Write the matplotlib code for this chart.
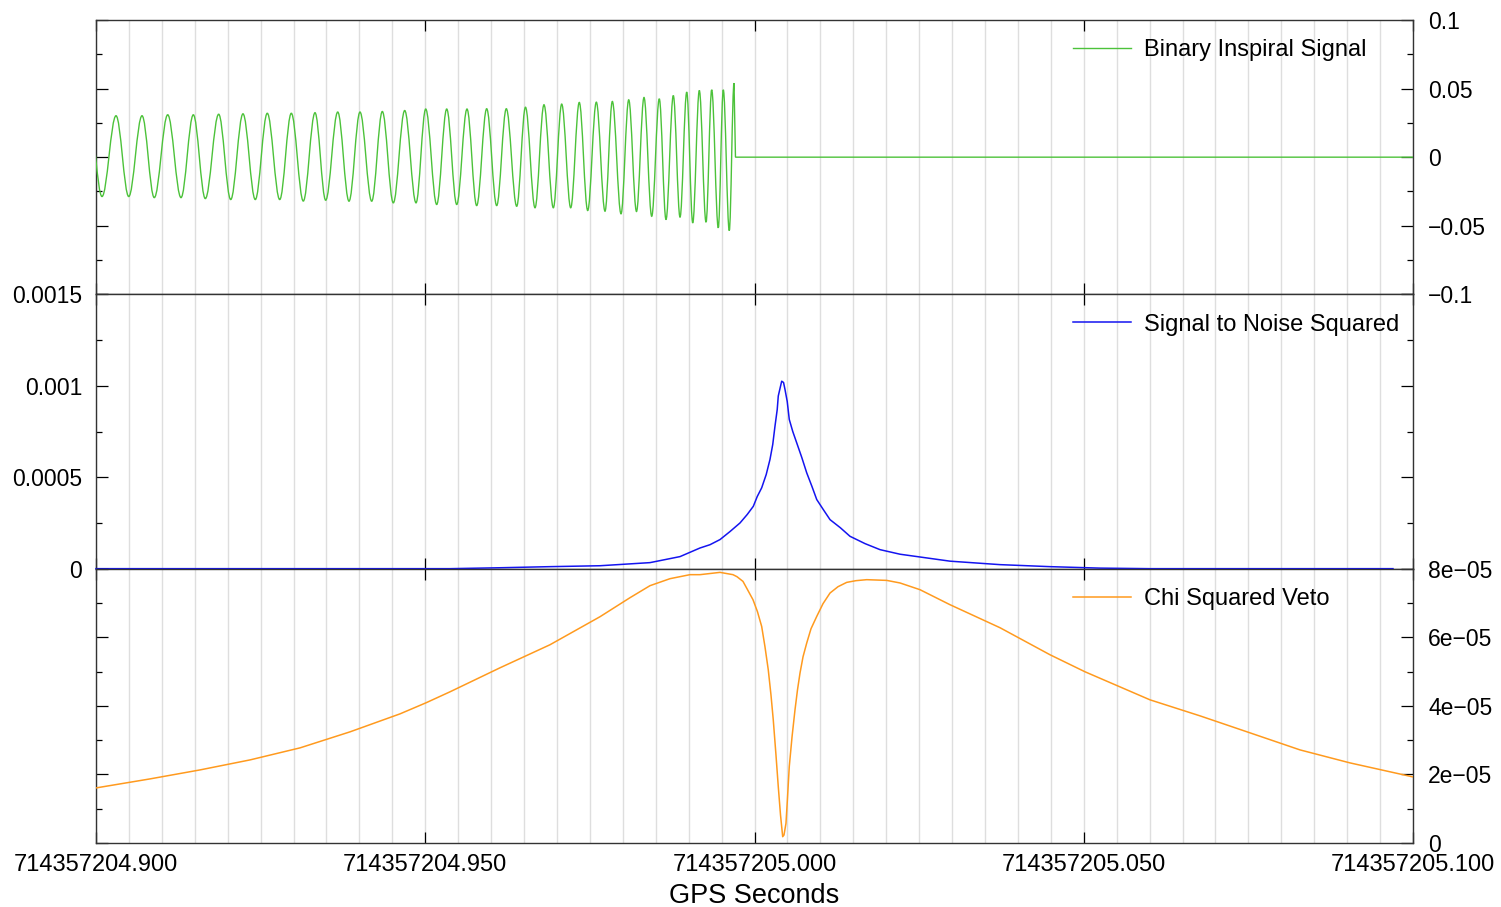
import numpy as np
import matplotlib
matplotlib.use("Agg")
import matplotlib.pyplot as plt
from matplotlib.path import Path
from matplotlib.patches import PathPatch
from matplotlib.ticker import FixedLocator, FuncFormatter

plt.rcParams['font.family'] = ['Liberation Sans', 'DejaVu Sans']

t0 = 714357204.900   # GPS start of the window

# inspiral waveform turning points (ms after t0, strain)
chirp_ms = [-1.05, 0.91, 3.04, 4.97, 6.99, 8.85, 10.89, 12.91, 14.78, 16.60,
            18.63, 20.46, 22.32, 24.19, 26.01, 27.90, 29.66, 31.48, 33.26, 34.88,
            36.71, 38.42, 40.09, 41.87, 43.48, 45.15, 46.88, 48.60, 50.07, 51.74,
            53.26, 54.78, 56.34, 57.81, 59.33, 60.85, 62.31, 63.89, 65.22, 66.67,
            68.03, 69.45, 70.72, 72.09, 73.39, 74.67, 75.98, 77.30, 78.41, 79.73,
            80.90, 82.08, 83.22, 84.39, 85.54, 86.56, 87.67, 88.69, 89.71, 90.62,
            91.62, 92.64, 93.50, 94.50, 95.26, 96.17, 96.89]
chirp_amp = [0.0300, -0.0287, 0.0302, -0.0287, 0.0302, -0.0295, 0.0309, -0.0295, 0.0309, -0.0302,
             0.0313, -0.0309, 0.0316, -0.0309, 0.0320, -0.0309, 0.0320, -0.0320, 0.0324, -0.0314,
             0.0329, -0.0321, 0.0329, -0.0321, 0.0333, -0.0333, 0.0340, -0.0333, 0.0351, -0.0345,
             0.0351, -0.0345, 0.0351, -0.0353, 0.0353, -0.0353, 0.0353, -0.0358, 0.0364, -0.0369,
             0.0382, -0.0369, 0.0387, -0.0369, 0.0399, -0.0389, 0.0401, -0.0394, 0.0406, -0.0413,
             0.0418, -0.0396, 0.0435, -0.0431, 0.0425, -0.0455, 0.0449, -0.0438, 0.0474, -0.0479,
             0.0486, -0.0474, 0.0491, -0.0515, 0.0491, -0.0535, 0.0540]
merger_ms = 97.11

# signal to noise squared
snr_ms = [0.0, 53.76, 61.35, 68.94, 76.54, 84.13, 88.69, 91.72, 93.24, 94.76,
          96.28, 97.80, 98.89, 99.82, 100.41, 101.09, 101.78, 102.35, 102.77, 103.11,
          103.45, 103.61, 103.91, 104.13, 104.41, 104.63, 104.97, 105.28, 105.81, 106.41,
          107.18, 107.93, 108.73, 109.45, 110.45, 111.47, 113.03, 114.50, 116.78, 119.06,
          122.10, 129.69, 137.29, 144.88, 152.47, 160.06, 196.96]
snr_val = [0.0, 0.0, 0.000005, 0.000011, 0.000016, 0.000033, 0.000066, 0.000113, 0.000131, 0.000159,
           0.000203, 0.000250, 0.000296, 0.000341, 0.000394, 0.000442, 0.000515, 0.000597, 0.000679, 0.000779,
           0.000870, 0.000944, 0.000991, 0.001025, 0.001018, 0.000980, 0.000914, 0.000816, 0.000750, 0.000688,
           0.000608, 0.000524, 0.000449, 0.000378, 0.000323, 0.000268, 0.000224, 0.000177, 0.000137, 0.000104,
           0.000079, 0.000041, 0.000022, 0.000011, 0.000003, 0.0, 0.0]

# chi squared veto
chi_ms = [0.0, 8.20, 15.79, 23.39, 30.98, 38.57, 46.17, 50.11, 53.76, 61.35,
          68.94, 76.54, 81.09, 84.13, 87.17, 90.20, 91.72, 94.76, 96.73, 97.34,
          98.25, 98.86, 99.77, 100.45, 101.09, 101.59, 102.09, 102.50, 102.85, 103.26,
          103.61, 103.95, 104.28, 104.48, 104.78, 105.01, 105.28, 105.70, 106.15, 106.53,
          106.91, 107.37, 107.93, 108.58, 109.45, 110.40, 111.47, 112.68, 114.00, 115.41,
          117.04, 120.08, 122.10, 125.13, 129.69, 137.29, 144.88, 150.19, 160.06, 167.65,
          175.25, 182.84, 190.43, 200.0]
chi_val = [1.606e-5, 1.869e-5, 2.131e-5, 2.423e-5, 2.774e-5, 3.241e-5, 3.766e-5, 4.088e-5, 4.409e-5, 5.109e-5,
           5.781e-5, 6.599e-5, 7.153e-5, 7.504e-5, 7.708e-5, 7.825e-5, 7.825e-5, 7.892e-5, 7.825e-5, 7.766e-5,
           7.629e-5, 7.416e-5, 7.095e-5, 6.745e-5, 6.315e-5, 5.723e-5, 5.051e-5, 4.321e-5, 3.591e-5, 2.569e-5,
           1.644e-5, 0.818e-5, 0.184e-5, 0.234e-5, 0.575e-5, 1.314e-5, 2.228e-5, 3.095e-5, 3.883e-5, 4.467e-5,
           4.955e-5, 5.431e-5, 5.831e-5, 6.248e-5, 6.607e-5, 6.978e-5, 7.290e-5, 7.474e-5, 7.600e-5, 7.650e-5,
           7.679e-5, 7.658e-5, 7.583e-5, 7.387e-5, 6.949e-5, 6.277e-5, 5.489e-5, 4.993e-5, 4.175e-5, 3.708e-5,
           3.212e-5, 2.715e-5, 2.336e-5, 1.927e-5]

green = '#4cc23a'
blue = '#1414f0'
orange = '#ff9a1e'
FS = 16.5


def gps(ms):
    return t0 + np.asarray(ms) / 1000.0


def fmt(v, _):
    s = f"{v:g}"
    return s.replace('-', '\u2212')


fig = plt.figure(figsize=(15.01, 9.07), dpi=100)
left, right = 96 / 1501, 1413 / 1501
bottom, top = 1 - 843 / 907, 1 - 20 / 907
h = (top - bottom) / 3
ax_sig = fig.add_axes([left, bottom + 2 * h, right - left, h])
ax_snr = fig.add_axes([left, bottom + h, right - left, h], sharex=ax_sig)
ax_chi = fig.add_axes([left, bottom, right - left, h], sharex=ax_sig)

# chirp drawn as smooth half cycles between turning points
t = gps(chirp_ms)
a = np.asarray(chirp_amp)
verts = [(t[0], a[0])]
codes = [Path.MOVETO]
for i in range(len(t) - 1):
    dt = t[i + 1] - t[i]
    verts += [(t[i] + 0.36 * dt, a[i]), (t[i + 1] - 0.36 * dt, a[i + 1]), (t[i + 1], a[i + 1])]
    codes += [Path.CURVE4] * 3
verts += [(gps(merger_ms), 0.0), (gps(200.0), 0.0)]
codes += [Path.LINETO, Path.LINETO]
ax_sig.add_patch(PathPatch(Path(verts, codes), fill=False, edgecolor=green, lw=1.0, zorder=3))
ax_sig.plot([], [], color=green, lw=1.0, label='Binary Inspiral Signal')

ax_snr.plot(gps(snr_ms), snr_val, color=blue, lw=1.1, zorder=3, clip_on=False,
            label='Signal to Noise Squared')
ax_chi.plot(gps(chi_ms), chi_val, color=orange, lw=1.1, zorder=3,
            label='Chi Squared Veto')

ax_sig.set_ylim(-0.1, 0.1)
ax_snr.set_ylim(0, 0.0015)
ax_chi.set_ylim(0, 8e-05)
ax_sig.set_xlim(t0, t0 + 0.2)

major_x = t0 + np.arange(0, 5) * 0.05
grid_x = t0 + np.arange(0, 41) * 0.005

yticks = {
    ax_sig: (np.linspace(-0.1, 0.1, 5), np.linspace(-0.1, 0.1, 9), 'right'),
    ax_snr: (np.linspace(0, 0.0015, 4), np.linspace(0, 0.0015, 7), 'left'),
    ax_chi: (np.linspace(0, 8e-05, 5), np.linspace(0, 8e-05, 9), 'right'),
}

for ax, (maj, mnr, side) in yticks.items():
    ax.yaxis.set_major_locator(FixedLocator(maj))
    ax.yaxis.set_minor_locator(FixedLocator(mnr))
    ax.yaxis.set_major_formatter(FuncFormatter(fmt))
    ax.xaxis.set_major_locator(FixedLocator(major_x))
    ax.xaxis.set_minor_locator(FixedLocator(grid_x))
    ax.tick_params(axis='y', which='both', direction='in', left=True, right=True,
                   labelleft=(side == 'left'), labelright=(side == 'right'),
                   labelsize=FS, width=0.9, color='black')
    ax.tick_params(axis='y', which='major', length=8.6, pad=10 if side == 'left' else 11)
    ax.tick_params(axis='y', which='minor', length=4.3)
    ax.tick_params(axis='x', which='major', direction='in', top=True, bottom=True,
                   length=8.2, width=0.9, labelsize=17, pad=8, labelbottom=False)
    ax.tick_params(axis='x', which='minor', length=0)
    ax.grid(True, axis='x', which='both', color='#dedede', lw=1.0, zorder=0)
    ax.set_axisbelow(True)
    for sp in ax.spines.values():
        sp.set_color('#333333')
        sp.set_linewidth(1.0)
    ax.legend(loc='upper left', bbox_to_anchor=(0.742, 0.93), frameon=False,
              fontsize=17, handlelength=2.45, handletextpad=0.55,
              borderpad=0, borderaxespad=0)

ax_chi.tick_params(axis='x', which='major', labelbottom=True)
ax_chi.xaxis.set_major_formatter(FuncFormatter(lambda v, _: f"{v:.3f}"))
ax_chi.set_xlabel('GPS Seconds', fontsize=19.5, labelpad=5)

fig.savefig('out.png', dpi=100)
